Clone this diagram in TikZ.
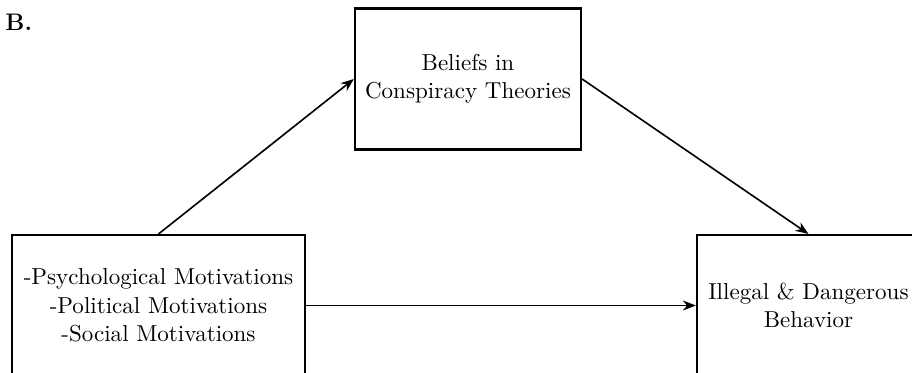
\documentclass[tikz,border=0pt]{standalone}
\usetikzlibrary{arrows.meta}
\begin{document}
\begin{tikzpicture}[x=0.46pt,y=-0.46pt,
  box/.style={draw=black,line width=1pt,rectangle,align=center,inner sep=0pt,font=\fontsize{10.6}{13.1}\selectfont},
  conn/.style={line width=0.75pt,-{Stealth[length=6pt,width=4.6pt]}}]
\clip (0,0) rectangle (912,373);
\useasboundingbox (0,0) rectangle (912,373);
\node[anchor=north west,inner sep=0pt,font=\fontsize{11}{13}\selectfont\bfseries] (lab) at (5,14) {B.};
\node[box,minimum width=104pt,minimum height=64.8pt] (top) at (468,79) {Beliefs in\\Conspiracy Theories};
\node[box,minimum width=134.8pt,minimum height=64.8pt] (left) at (158.5,305.5) {-Psychological Motivations\\-Political Motivations\\-Social Motivations};
\node[box,minimum width=102.6pt,minimum height=64.8pt] (right) at (808.5,305.5) {Illegal \& Dangerous\\Behavior};
\draw[conn] (left.north) -- (top.west);
\draw[conn] (top.east) -- (right.north);
\draw[conn] (left.east) -- (right.west);
\end{tikzpicture}
\end{document}
